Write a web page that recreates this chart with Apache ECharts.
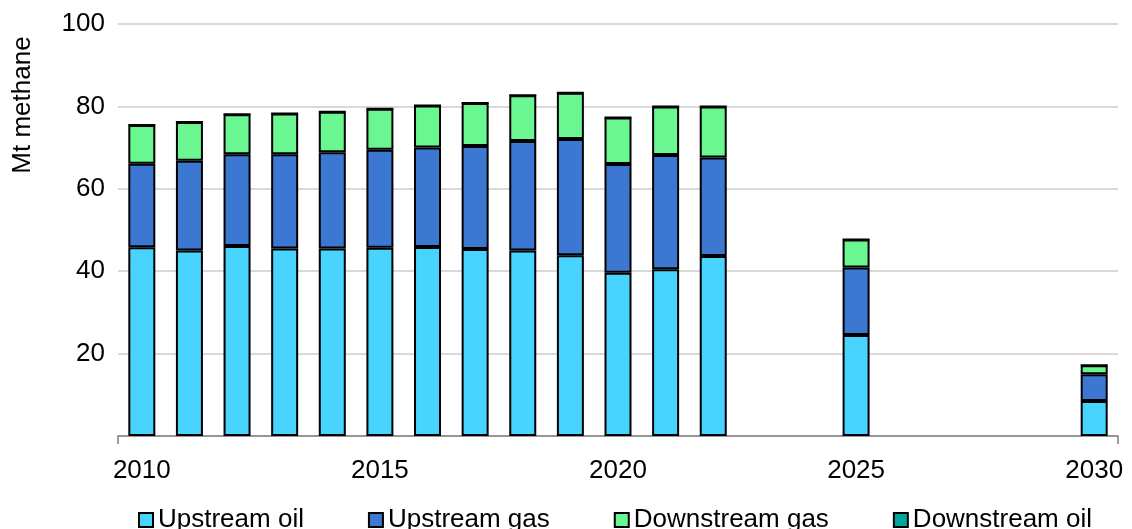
<!DOCTYPE html>
<html>
<head>
<meta charset="utf-8">
<script src="https://cdn.jsdelivr.net/npm/echarts@6/dist/echarts.min.js"></script>
<style>
html,body{margin:0;padding:0;background:#fff;}
#chart{width:1132px;height:529px;}
</style>
</head>
<body>
<div id="chart"></div>
<script>
const categories = ['2010','2011','2012','2013','2014','2015','2016','2017','2018','2019','2020','2021','2022','2023','2024','2025','2026','2027','2028','2029','2030'];
const upstreamOil   = [45.8, 45.0, 46.1, 45.5, 45.5, 45.7, 45.9, 45.4, 45.0, 43.9, 39.6, 40.5, 43.7, null, null, 24.5, null, null, null, null, 8.5];
const upstreamGas   = [20.3, 21.8, 22.3, 22.9, 23.4, 23.8, 24.1, 25.0, 26.6, 28.2, 26.4, 27.7, 23.9, null, null, 16.4, null, null, null, null, 6.5];
const downstreamGas = [9.4, 9.4, 9.7, 9.9, 9.8, 9.9, 10.2, 10.4, 11.1, 11.2, 11.3, 11.8, 12.4, null, null, 6.8, null, null, null, null, 2.2];
const downstreamOil = [0, 0, 0, 0, 0, 0, 0, 0, 0, 0, 0, 0, 0, null, null, 0, null, null, null, null, 0];
const yTicks = [0, 20, 40, 60, 80, 100];

const FONT = '"Liberation Sans", Arial, sans-serif';
const chart = echarts.init(document.getElementById('chart'), null, {renderer: 'canvas'});

function barSeries(name, data, color) {
  return {
    name: name, type: 'bar', stack: 'total', data: data,
    barWidth: 27,
    itemStyle: {color: color, borderColor: '#000', borderWidth: 2},
    emphasis: {disabled: true}
  };
}

chart.setOption({
  animation: false,
  textStyle: {fontFamily: FONT},
  grid: {left: 118, right: 14, top: 24, bottom: 93, containLabel: false},
  graphic: [{
    type: 'text', x: 23, y: 105, rotation: Math.PI / 2,
    style: {text: 'Mt methane', font: '26px ' + FONT, fill: '#000', textAlign: 'center', textVerticalAlign: 'middle'}
  }],
  legend: {
    top: 502, left: 133,
    itemWidth: 14, itemHeight: 14, itemGap: 64,
    icon: 'rect',
    textStyle: {fontSize: 26, color: '#000', fontFamily: FONT},
    data: ['Upstream oil', 'Upstream gas', 'Downstream gas', 'Downstream oil']
  },
  xAxis: {
    type: 'category', data: categories,
    axisLine: {lineStyle: {color: '#7f7f7f', width: 1.5}},
    axisTick: {show: true, length: 8, lineStyle: {color: '#7f7f7f', width: 1.5}, interval: function (i) { return i === 0; }},
    axisLabel: {interval: 4, fontSize: 26, color: '#000', margin: 22, fontFamily: FONT},
    splitLine: {show: false}
  },
  yAxis: {
    type: 'value', min: yTicks[0], max: yTicks[yTicks.length - 1], interval: 20,
    axisLine: {show: false}, axisTick: {show: false},
    axisLabel: {fontSize: 26, color: '#000', margin: 13, fontFamily: FONT,
      formatter: function (v) { return v === 0 ? '' : String(v); }},
    splitLine: {lineStyle: {color: '#d9d9d9', width: 2}}
  },
  series: [
    barSeries('Upstream oil', upstreamOil, '#48D4FF'),
    barSeries('Upstream gas', upstreamGas, '#3C78D2'),
    barSeries('Downstream gas', downstreamGas, '#6AF691'),
    barSeries('Downstream oil', downstreamOil, '#00A69C')
  ]
});
</script>
</body>
</html>
